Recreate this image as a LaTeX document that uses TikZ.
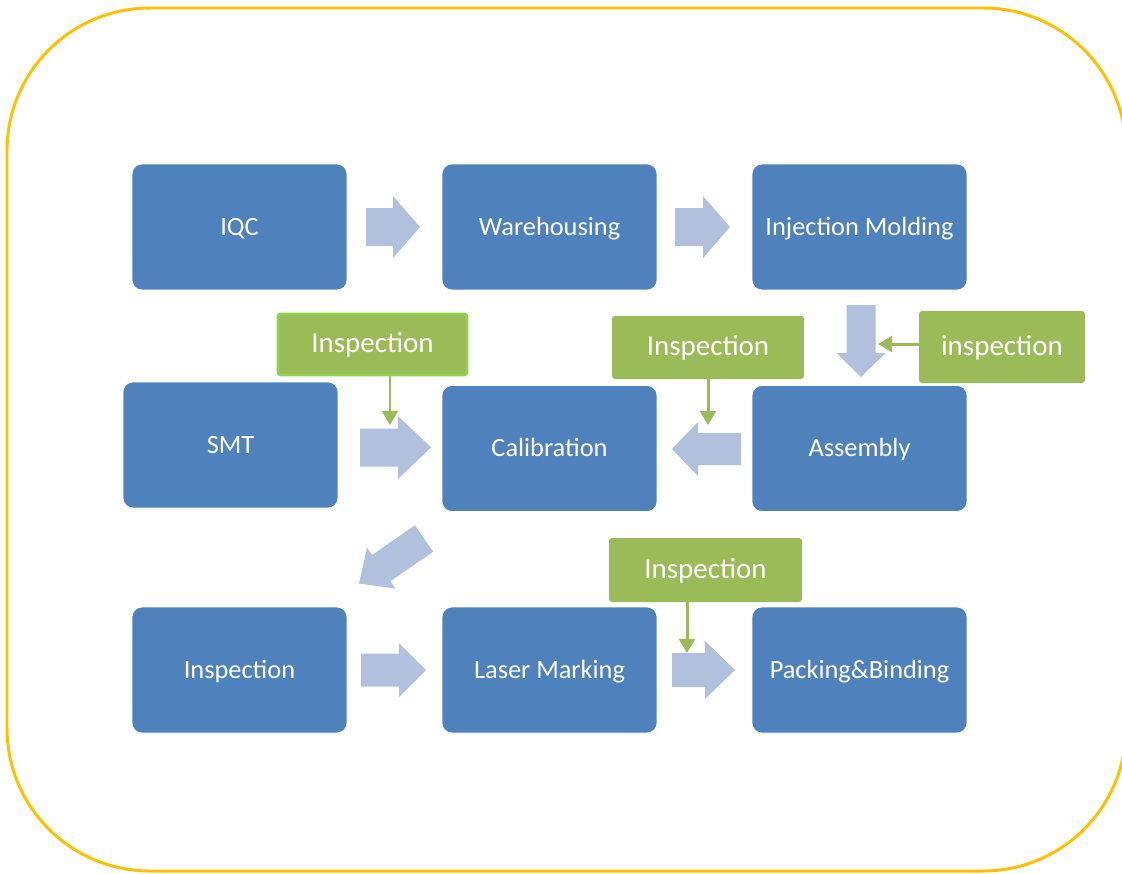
\documentclass[tikz,border=0pt]{standalone}
\usepackage{fontspec}
\setmainfont{Carlito}
\usetikzlibrary{arrows.meta}

\definecolor{boxblue}{HTML}{4F81BD}
\definecolor{arrowblue}{HTML}{B0C0DD}
\definecolor{inspgreen}{HTML}{9BBB59}
\definecolor{brightgreen}{HTML}{92D050}
\definecolor{framegold}{HTML}{FFC000}

\tikzset{
  procbox/.style={shape=rectangle,fill=boxblue,draw=white,line width=0.4pt,
    rounded corners=0.2cm,minimum width=4.3cm,minimum height=2.52cm,
    text height=0.95em,text depth=0em,
    text=white,font=\fontsize{15}{18}\selectfont},
  checkbox/.style={shape=rectangle,fill=inspgreen,rounded corners=0.06cm,
    inner sep=0pt,text height=0.95em,text depth=0em,
    text=white,font=\fontsize{16.5}{20}\selectfont},
  insparrow/.style={draw=inspgreen,line width=1.7pt,-{Triangle[length=8pt,width=9pt]}},
  pics/bigarrow/.style n args={4}{code={
    \fill[arrowblue] (0,-#2) -- (#1-#4,-#2) -- (#1-#4,-#3) -- (#1,0)
      -- (#1-#4,#3) -- (#1-#4,#2) -- (0,#2) -- cycle;}}
}

\begin{document}
\begin{tikzpicture}[x=0.02cm,y=-0.02cm]
            \useasboundingbox (0,0) rectangle (1122,873);
            \draw[framegold,line width=1.7pt,rounded corners=2.86cm]
                (7,8) rectangle (1126,871);

            % process steps
            \node (iqc)[procbox] at (239.5, 227) {IQC};
            \node (warehouse)[procbox] at (549.5, 227) {Warehousing};
            \node (molding)[procbox] at (859.5, 227) {Injection Molding};
            \node (smt)[procbox] at (230.5, 445) {SMT};
            \node (calib)[procbox] at (549.5, 448.5) {Calibration};
            \node (assembly)[procbox] at (859.5, 448.5) {Assembly};
            \node (inspect)[procbox] at (239.5, 670) {Inspection};
            \node (laser)[procbox] at (549.5, 670) {Laser Marking};
            \node (packing)[procbox] at (859.5, 670) {Packing\&Binding};

            % flow arrows
            \pic (a1) at (366, 227) {bigarrow={54}{19}{31}{27}};
            \pic (a2) at (675, 227) {bigarrow={55}{19}{31}{27}};
            \pic[rotate=-90] (a3) at (861, 305) {bigarrow={72}{14.5}{24.5}{24}};
            \pic (a4) at (360, 447.5) {bigarrow={71}{19}{31.5}{33}};
            \pic[rotate=180] (a5) at (741, 449) {bigarrow={69}{16}{27}{26}};
            \pic[rotate=214.7] (a6) at (424, 538.5) {bigarrow={79}{16}{25}{27}};
            \pic (a7) at (361, 670) {bigarrow={65}{16.5}{27}{27}};
            \pic (a8) at (672, 670) {bigarrow={63}{17}{29}{30}};

            % inspection points
            \node (chk1)[checkbox,draw=brightgreen,line width=1.7pt,
                minimum width=3.78cm,minimum height=1.22cm]
                at (372.5, 344.5) {Inspection};
            \node (chk2)[checkbox,minimum width=3.84cm,minimum height=1.26cm]
                at (708, 347.5) {Inspection};
            \node (chk3)[checkbox,minimum width=3.32cm,minimum height=1.44cm]
                at (1002, 347) {inspection};
            \node (chk4)[checkbox,minimum width=3.86cm,minimum height=1.28cm]
                at (705.5, 570) {Inspection};

            \coordinate (t1) at (390, 425);
            \coordinate (t2) at (708, 425);
            \coordinate (t3) at (878, 344);
            \coordinate (t4) at (687, 653);

            \draw [insparrow] (t1 |- chk1.south) -- (t1);
            \draw [insparrow] (chk2.south) -- (t2);
            \draw [insparrow] (chk3.west |- t3) -- (t3);
            \draw [insparrow] (t4 |- chk4.south) -- (t4);
         \end{tikzpicture}
\end{document}
